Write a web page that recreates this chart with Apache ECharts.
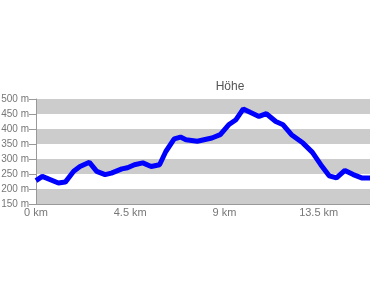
<!DOCTYPE html>
<html><head><meta charset="utf-8">
<script src="https://cdn.jsdelivr.net/npm/echarts@6/dist/echarts.min.js"></script>
<style>html,body{margin:0;padding:0;background:#fff}#c{width:370px;height:297px}</style>
</head><body><div id="c"></div>
<script>
const distanceKm = [0,0.3,1.07,1.4,1.8,2.1,2.55,2.9,3.3,3.6,4.1,4.37,4.7,5.1,5.5,5.9,6.2,6.6,6.9,7.16,7.7,8.4,8.8,9.2,9.55,9.9,10.25,10.65,11.0,11.45,11.8,12.2,12.75,13.2,13.6,14.0,14.35,14.75,15.15,15.55,15.95];
const heightM = [228,242,220,223,259,275,289,259,248,253,267,271,281,287,275,281,325,367,373,364,359,370,381,414,431,467,455,442,451,425,414,381,353,322,281,244,237,262,248,237,237];
const title = 'Höhe';
const chart = echarts.init(document.getElementById('c'));
chart.setOption({
  animation:false,
  title:{text:title,left:225,top:76,textAlign:'center',textStyle:{fontSize:12,fontWeight:'normal',color:'#555',fontFamily:'Liberation Sans'}},
  grid:{left:36,right:0,top:99,bottom:93,containLabel:false,outerBoundsMode:'none'},
  xAxis:{type:'value',min:0,max:15.95,interval:4.5,
    axisLine:{show:true,lineStyle:{color:'#999'}},axisTick:{show:false},splitLine:{show:false},
    axisLabel:{showMaxLabel:false,formatter:v=>v+' km',color:'#777',fontSize:11,fontFamily:'Liberation Sans',margin:3}},
  yAxis:{type:'value',min:150,max:500,interval:50,
    axisLine:{show:true,lineStyle:{color:'#999'}},
    axisTick:{show:true,length:7,lineStyle:{color:'#999'}},
    splitLine:{show:false},
    splitArea:{show:true,areaStyle:{color:['#cccccc','#ffffff']}},
    axisLabel:{formatter:v=>v+' m',color:'#777',fontSize:10,fontFamily:'Liberation Sans',margin:7}},
  series:[{type:'line',data:distanceKm.map((d,i)=>[d,heightM[i]]),showSymbol:false,
    lineStyle:{color:'#0000ff',width:5},itemStyle:{color:'#0000ff'}}]
});
</script></body></html>
